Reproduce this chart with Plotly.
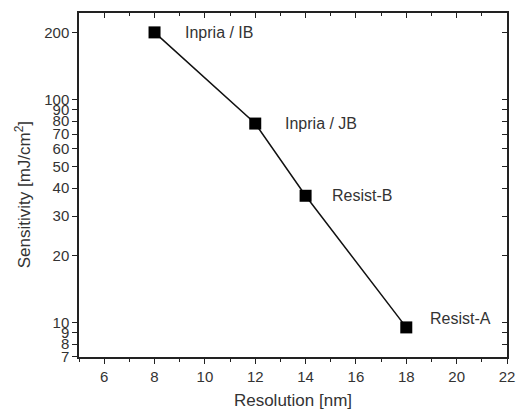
import math
import plotly.graph_objects as go

# Resist performance: resolution vs. dose-to-size
resist_names = ["Inpria / IB", "Inpria / JB", "Resist-B", "Resist-A"]
resolution_nm = [8, 12, 14, 18]
sensitivity_mj = [200, 78, 37, 9.5]

x_ticks = [6, 8, 10, 12, 14, 16, 18, 20, 22]
y_ticks = [7, 8, 9, 10, 20, 30, 40, 50, 60, 70, 80, 90, 100, 200]

# label offsets in pixels (x, y) next to each marker
label_shift = [(28, 0), (28, 0), (24, 0), (22, 9)]

FONT = "Liberation Sans, Arial, sans-serif"
AX = "#222222"
TXT = "#333333"

fig = go.Figure()
fig.add_trace(go.Scatter(
    x=resolution_nm, y=sensitivity_mj, mode="lines+markers",
    line=dict(color="#111111", width=1.5),
    marker=dict(symbol="square", size=12, color="#000000"),
    showlegend=False, cliponaxis=False,
))

# annotation positions on a log axis are given in log10 units
for name, xv, yv, (dx, dy) in zip(resist_names, resolution_nm, sensitivity_mj, label_shift):
    fig.add_annotation(x=xv, y=math.log10(yv), xref="x", yref="y", text=name,
                       showarrow=False, xanchor="left", yanchor="middle",
                       xshift=dx, yshift=dy,
                       font=dict(family=FONT, size=16, color=TXT))

# vertical axis title
fig.add_annotation(x=0, y=0.47, xref="paper", yref="paper",
                   text="Sensitivity [mJ/cm<sup>2</sup>]", textangle=-90,
                   showarrow=False, xanchor="right", yanchor="middle", xshift=-43,
                   font=dict(family=FONT, size=17, color=TXT))

common_x = dict(range=[5, 22], showgrid=False, zeroline=False,
                showline=True, linecolor=AX, linewidth=1.5)
common_y = dict(type="log", range=[0.845, 2.388], showgrid=False, zeroline=False,
                showline=True, linecolor=AX, linewidth=1.5)

fig.update_layout(
    width=520, height=414,
    margin=dict(l=79, r=5, t=13, b=57),
    plot_bgcolor="white", paper_bgcolor="white",
    font=dict(family=FONT, color=TXT),
    xaxis=dict(**common_x, tickvals=x_ticks, ticks="outside", ticklen=5,
               tickwidth=1.2, tickcolor=AX, tickfont=dict(size=15, color=TXT),
               ticklabeloverflow="allow",
               minor=dict(dtick=1, tick0=0, ticks="outside", ticklen=3, tickcolor=AX),
               title=dict(text="Resolution [nm]", font=dict(size=17, color=TXT), standoff=10)),
    yaxis=dict(**common_y, tickvals=y_ticks, ticktext=[str(v) for v in y_ticks],
               ticks="outside", ticklen=5, tickwidth=1.2, tickcolor=AX,
               tickfont=dict(size=15, color=TXT)),
    xaxis2=dict(**common_x, overlaying="x", side="top", matches="x",
                tickvals=x_ticks, ticks="inside", ticklen=5, tickcolor=AX,
                showticklabels=False,
                minor=dict(dtick=1, tick0=0, ticks="inside", ticklen=3, tickcolor=AX)),
    yaxis2=dict(**common_y, overlaying="y", side="right", matches="y",
                tickvals=y_ticks, ticks="inside", ticklen=5, tickcolor=AX,
                showticklabels=False),
)

# invisible trace to activate the mirrored frame axes
fig.add_trace(go.Scatter(x=[resolution_nm[0]], y=[sensitivity_mj[0]], xaxis="x2", yaxis="y2",
                         mode="markers", marker=dict(opacity=0), showlegend=False,
                         hoverinfo="skip"))

fig.write_html("out.html")
